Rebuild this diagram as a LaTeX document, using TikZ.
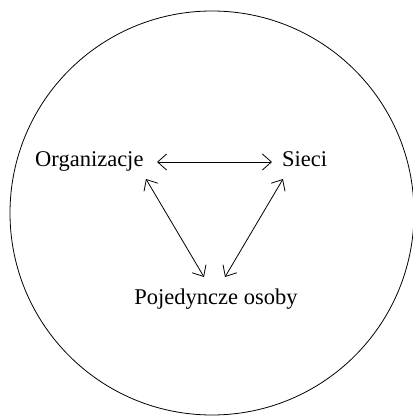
\documentclass[tikz,border=0pt]{standalone}
\usepackage{fontspec}
\setmainfont{Liberation Serif}
\usetikzlibrary{arrows.meta}
\begin{document}
\begin{tikzpicture}[
  lbl/.style={inner sep=0pt, font=\fontsize{22.5}{26}\selectfont},
  conn/.style={line width=0.8pt, {Straight Barb[length=9pt,width=16pt]}-{Straight Barb[length=9pt,width=16pt]}}
]
\useasboundingbox (0pt,0pt) rectangle (413pt,416pt);
\draw[line width=0.8pt] (212pt,203pt) circle (202pt);
\node[lbl, anchor=base west] (org) at (35pt,249pt) {Organizacje};
\node[lbl, anchor=base west] (sieci) at (282pt,249pt) {Sieci};
\node[lbl, anchor=base] (poj) at (216pt,111pt) {Pojedyncze osoby};
\draw[conn] ([shift={(122pt,5pt)}]org.base west) -- ([shift={(-10pt,5pt)}]sieci.base west);
\draw[conn] ([shift={(111pt,-12pt)}]org.base west) -- ([shift={(-12pt,28pt)}]poj.base);
\draw[conn] ([shift={(1pt,-12pt)}]sieci.base west) -- ([shift={(9pt,28pt)}]poj.base);
\end{tikzpicture}
\end{document}
